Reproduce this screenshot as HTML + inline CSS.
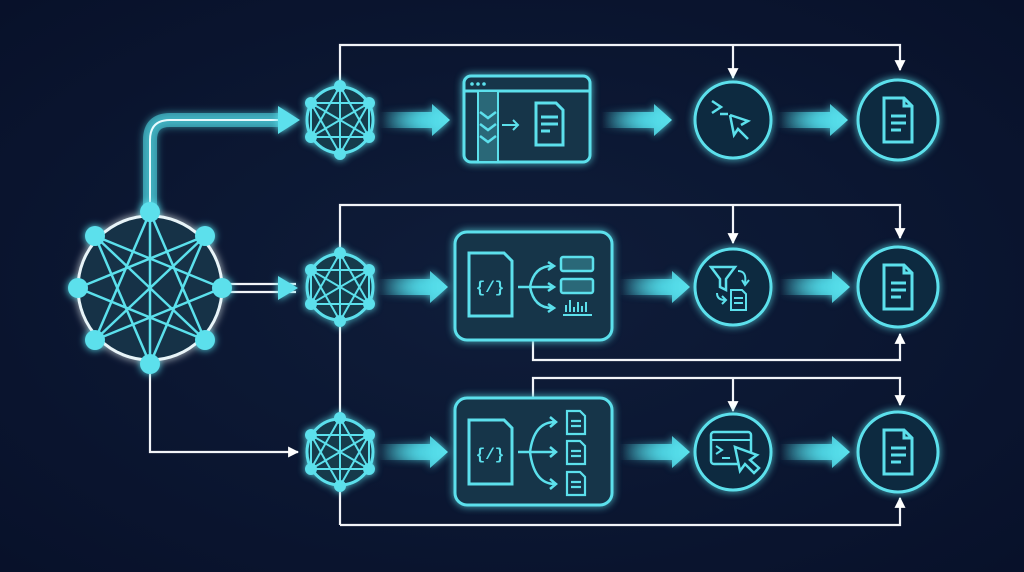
<!DOCTYPE html>
<html><head><meta charset="utf-8"><style>
html,body{margin:0;padding:0;background:#0a1430;}
svg{display:block}
</style></head><body>
<svg width="1024" height="572" viewBox="0 0 1024 572" xmlns="http://www.w3.org/2000/svg">
<defs>
<radialGradient id="bg" cx="50%" cy="50%" r="70%"><stop offset="0" stop-color="#0f1d3a"/><stop offset="1" stop-color="#08112a"/></radialGradient>
<filter id="glow" x="-50%" y="-50%" width="200%" height="200%"><feGaussianBlur stdDeviation="4" result="b"/><feMerge><feMergeNode in="b"/><feMergeNode in="SourceGraphic"/></feMerge></filter>
<linearGradient id="ag" x1="0" x2="1"><stop offset="0" stop-color="#4fd8e6" stop-opacity="0"/><stop offset="0.6" stop-color="#4fd8e6" stop-opacity="0.8"/><stop offset="1" stop-color="#5be4ef"/></linearGradient>
<g id="fat"><polygon points="0,-8 52,-8 52,-16 70,0 52,16 52,8 0,8" fill="url(#ag)"/></g>
<g id="net" stroke="#5be0ec" stroke-width="2" fill="none">
<circle r="33" fill="#123a4c" stroke-width="3"/>
<path d="M0,-34 L-29,17 M0,-34 L29,17 M0,-34 L0,34 M-29,-17 L29,17 M29,-17 L-29,17 M-29,-17 L29,-17 M-29,17 L29,17 M-29,-17 L0,34 M29,-17 L0,34 M-29,-17 L-29,17 M29,-17 L29,17"/>
<g fill="#5be0ec" stroke="none"><circle cy="-34" r="6"/><circle cy="34" r="6"/><circle cx="-29" cy="-17" r="6"/><circle cx="29" cy="-17" r="6"/><circle cx="-29" cy="17" r="6"/><circle cx="29" cy="17" r="6"/></g>
</g>
<g id="doc" stroke="#5be0ec" stroke-width="3" fill="none">
<circle r="40" fill="#0f2a40"/>
<path d="M-14,-22 L6,-22 L14,-14 L14,22 L-14,22 Z M6,-22 L6,-14 L14,-14 M-7,-4 L8,-4 M-7,3 L8,3 M-7,10 L3,10"/>
</g>
<marker id="ah" viewBox="0 0 10 10" refX="9" refY="5" markerWidth="5" markerHeight="5" orient="auto"><path d="M0,0 L10,5 L0,10 z" fill="#fff"/></marker>
</defs>
<rect width="1024" height="572" fill="url(#bg)"/>

<!-- white connectors -->
<g stroke="#f2f4f8" stroke-width="2.2" fill="none">
<path d="M340,85 V45 H900 V70" marker-end="url(#ah)"/>
<path d="M733,45 V78" marker-end="url(#ah)"/>
<path d="M340,525 V205 H900 V238" marker-end="url(#ah)"/>
<path d="M733,205 V243" marker-end="url(#ah)"/>
<path d="M533,340 V360 H900 V334" marker-end="url(#ah)"/>
<path d="M533,398 V378 H900 V405" marker-end="url(#ah)"/>
<path d="M733,378 V411" marker-end="url(#ah)"/>
<path d="M340,525 H900 V498" marker-end="url(#ah)"/>
<path d="M150,362 V452 H298" marker-end="url(#ah)"/>
<path d="M222,284 H296 M222,292 H296"/>
</g>
<polygon points="278,276 298,288 278,300" fill="#5be0ec" filter="url(#glow)"/>
<!-- top thick branch -->
<path d="M150,212 V140 Q150,120 170,120 H285" stroke="#4fd8e6" stroke-opacity="0.55" stroke-width="14" fill="none" filter="url(#glow)"/>
<path d="M150,212 V140 Q150,120 170,120 H285" stroke="#e8fbff" stroke-width="2" fill="none"/>
<polygon points="278,106 300,120 278,134" fill="#5be0ec" filter="url(#glow)"/>

<!-- hub -->
<g filter="url(#glow)" stroke="#5be0ec" stroke-width="2.5" fill="none">
<circle cx="150" cy="288" r="72" fill="#123246" stroke="#e8f4f8" stroke-width="3"/>
<g transform="translate(150,288)">
<path d="M0,-76 L0,76 M0,-76 L-55,52 M0,-76 L55,52 M-72,0 L55,-52 M-72,0 L55,52 M72,0 L-55,-52 M72,0 L-55,52 M-55,-52 L0,76 M55,-52 L0,76 M-55,-52 L55,52 M55,-52 L-55,52"/>
<g fill="#5be0ec" stroke="none"><circle cy="-76" r="10"/><circle cy="76" r="10"/><circle cx="-72" r="10"/><circle cx="72" r="10"/><circle cx="-55" cy="-52" r="10"/><circle cx="55" cy="-52" r="10"/><circle cx="-55" cy="52" r="10"/><circle cx="55" cy="52" r="10"/></g>
</g>
</g>

<g filter="url(#glow)">
<use href="#net" x="340" y="120"/><use href="#net" x="340" y="287"/><use href="#net" x="340" y="452"/>
<use href="#fat" x="380" y="120"/><use href="#fat" x="378" y="287"/><use href="#fat" x="378" y="452"/>
<use href="#fat" x="602" y="120"/><use href="#fat" x="620" y="287"/><use href="#fat" x="620" y="452"/>
<use href="#fat" x="778" y="120"/><use href="#fat" x="780" y="287"/><use href="#fat" x="780" y="452"/>
<use href="#doc" x="898" y="120"/><use href="#doc" x="898" y="287"/><use href="#doc" x="898" y="452"/>
</g>

<!-- top box -->
<g filter="url(#glow)" stroke="#5be0ec" stroke-width="3" fill="none">
<rect x="464" y="76" width="126" height="86" rx="7" fill="#12344a"/>
<path d="M464,91 H590"/>
<g fill="#5be0ec" stroke="none"><circle cx="472" cy="84" r="1.8"/><circle cx="478" cy="84" r="1.8"/><circle cx="484" cy="84" r="1.8"/></g>
<rect x="478" y="91" width="20" height="71" fill="#2a6878" stroke-width="2"/>
<path d="M480,112 L488,118 L496,112 M480,124 L488,130 L496,124 M480,136 L488,142 L496,136" stroke-width="2.5"/>
<path d="M502,125 H518 M513,120 L518,125 L513,130" stroke-width="2"/>
<path d="M536,103 L556,103 L563,110 L563,145 L536,145 Z M541,117 H558 M541,124 H558 M541,131 H550"/>
</g>

<!-- middle box -->
<g filter="url(#glow)" stroke="#5be0ec" stroke-width="3" fill="none">
<rect x="455" y="232" width="157" height="108" rx="12" fill="#12344a"/>
<path d="M469,253 L504,253 L512,261 L512,316 L469,316 Z"/>
<text x="490" y="292" text-anchor="middle" font-family="Liberation Mono,monospace" font-size="16" font-weight="bold" fill="#5be0ec" stroke="none">{/}</text>
<path d="M518,287 H552 M530,287 Q534,266 552,266 M530,287 Q534,308 552,308 M548,262 L554,266 L548,270 M548,283 L554,287 L548,291 M548,304 L554,308 L548,312" stroke-width="2.5"/>
<rect x="561" y="257" width="32" height="14" rx="2" fill="#2a6878" stroke-width="2.5"/>
<rect x="561" y="279" width="32" height="14" rx="2" fill="#2a6878" stroke-width="2.5"/>
<path d="M563,315 H592 M566,312 V305 M570,312 V300 M574,312 V307 M578,312 V302 M582,312 V306 M586,312 V302" stroke-width="2"/>
</g>

<!-- bottom box -->
<g filter="url(#glow)" stroke="#5be0ec" stroke-width="3" fill="none">
<rect x="455" y="398" width="157" height="107" rx="12" fill="#12344a"/>
<path d="M469,420 L504,420 L512,428 L512,484 L469,484 Z"/>
<text x="490" y="459" text-anchor="middle" font-family="Liberation Mono,monospace" font-size="16" font-weight="bold" fill="#5be0ec" stroke="none">{/}</text>
<path d="M518,452 H555 M530,452 Q534,422 555,422 M530,452 Q534,484 555,484 M550,417 L556,422 L550,427 M550,447 L556,452 L550,457 M550,479 L556,484 L550,489" stroke-width="2.5"/>
<g stroke-width="2.2">
<path d="M567,411 L580,411 L585,416 L585,434 L567,434 Z M571,421 H581 M571,426 H581"/>
<path d="M567,441 L580,441 L585,446 L585,464 L567,464 Z M571,451 H581 M571,456 H581"/>
<path d="M567,472 L580,472 L585,477 L585,495 L567,495 Z M571,482 H581 M571,487 H581"/>
</g>
</g>

<!-- tool circles -->
<g filter="url(#glow)" stroke="#5be0ec" stroke-width="3" fill="none">
<circle cx="733" cy="120" r="38" fill="#0f2a40"/>
<path d="M712,101 L721,107 L712,113 M720,114 H728" stroke-width="2.5"/>
<path d="M730,115 L734,135 L738,129 L748,139 M730,115 L748,121 L741,125" stroke-width="2.5"/>
<circle cx="733" cy="287" r="38" fill="#0f2a40"/>
<path d="M711,267 H735 L726,279 V290 L720,287 V279 Z" stroke-width="2.5"/>
<path d="M738,271 Q747,271 745,283 M742,280 L745,285 L749,280 M717,293 Q717,300 725,300 M722,296 L726,300 L722,304" stroke-width="2"/>
<path d="M731,290 L742,290 L746,294 L746,310 L731,310 Z M734,298 H743 M734,303 H743" stroke-width="2"/>
<circle cx="733" cy="452" r="38" fill="#0f2a40"/>
<rect x="711" y="432" width="40" height="32" rx="3" stroke-width="2.5"/>
<path d="M711,440 H751 M716,446 L722,450 L716,454 M722,458 H730" stroke-width="2"/>
<path d="M735,447 L740,471 L745,464 L754,473 L759,468 L750,460 L757,455 Z" fill="#0f2a40" stroke-width="2.5"/>
</g>
</svg>
</body></html>
